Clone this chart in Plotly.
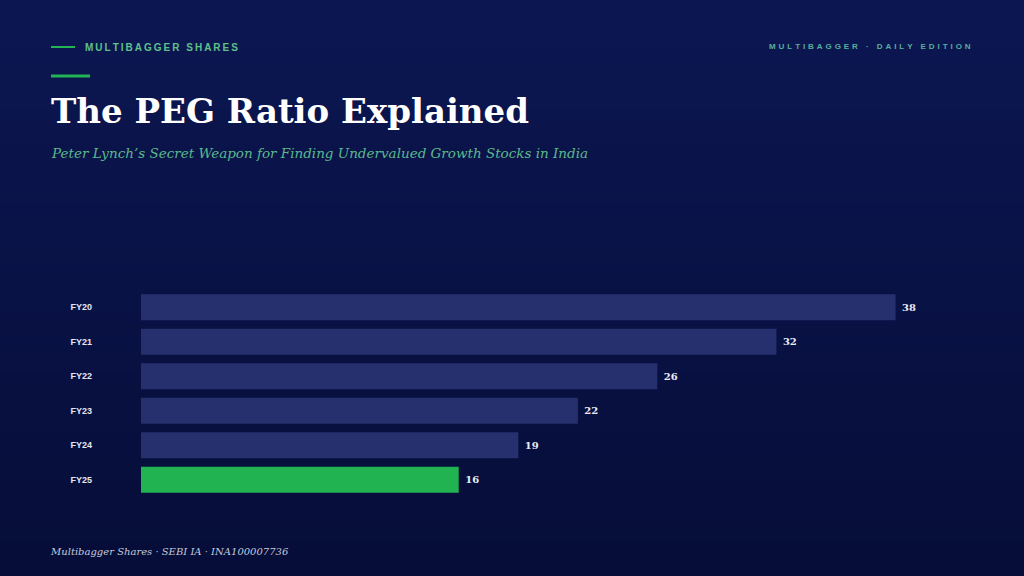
import plotly.graph_objects as go

categories = ["FY20", "FY21", "FY22", "FY23", "FY24", "FY25"]
values = [38, 32, 26, 22, 19, 16]
bar_colors = ["#27306e", "#27306e", "#27306e", "#27306e", "#27306e", "#21b352"]

W, H = 1024, 576

def spaced(s, sep="\u2009"):
    return sep.join(list(s))

fig = go.Figure()
fig.add_trace(go.Bar(
    y=categories, x=values, orientation="h",
    marker=dict(color=bar_colors, line=dict(width=0)),
    width=0.75,
    text=[f" {v}" for v in values], textposition="outside",
    textfont=dict(family="DejaVu Serif", size=10, color="#e8ebf5", weight="bold"),
    cliponaxis=False, hoverinfo="skip",
))

L, R, T, B = 141, 49, 290, 79
pw, ph = W - L - R, H - T - B
def px(x):
    return (x - L) / pw
def py(y):
    return (H - B - y) / ph

# background gradient bands
top = (12, 23, 82)
bot = (6, 13, 56)
n = 48
shapes = []
for i in range(n):
    t = i / (n - 1)
    c = tuple(round(top[k] + (bot[k] - top[k]) * t) for k in range(3))
    y_top = i * H / n
    y_bot = (i + 1) * H / n + 1
    shapes.append(dict(type="rect", xref="paper", yref="paper",
                       x0=px(-5), x1=px(W + 5), y0=py(y_bot), y1=py(y_top),
                       fillcolor=f"rgb{c}", line=dict(width=0), layer="below"))

shapes.append(dict(type="line", xref="paper", yref="paper", x0=px(51), x1=px(75), y0=py(47), y1=py(47),
                   line=dict(color="#22b455", width=2)))
shapes.append(dict(type="line", xref="paper", yref="paper", x0=px(51), x1=px(90), y0=py(76), y1=py(76),
                   line=dict(color="#22b455", width=3)))

annotations = [
    dict(text=spaced("MULTIBAGGER SHARES"), x=px(83), y=py(47), xanchor="left", yanchor="middle",
         font=dict(family="Liberation Sans", size=10, color="#5fc08a", weight="bold")),
    dict(text=spaced("MULTIBAGGER · DAILY EDITION", "\u2009\u2006"), x=px(973), y=py(46), xanchor="right", yanchor="middle",
         font=dict(family="Liberation Sans", size=8, color="#5aae9c", weight="bold")),
    dict(text="<b>The PEG Ratio Explained</b>", x=px(49), y=py(111), xanchor="left", yanchor="middle",
         font=dict(family="DejaVu Serif", size=34, color="#ffffff")),
    dict(text="<i>Peter Lynch’s Secret Weapon for Finding Undervalued Growth Stocks in India</i>",
         x=px(49), y=py(153), xanchor="left", yanchor="middle",
         font=dict(family="DejaVu Serif", size=13.5, color="#5cb98a")),
    dict(text="<i>Multibagger Shares · SEBI IA · INA100007736</i>", x=px(48), y=py(551), xanchor="left", yanchor="middle",
         font=dict(family="DejaVu Serif", size=10, color="#c3cadc")),
]
for a in annotations:
    a.update(xref="paper", yref="paper", showarrow=False)

fig.update_layout(
    width=W, height=H,
    margin=dict(l=L, r=R, t=T, b=B, pad=0),
    paper_bgcolor="#09113f", plot_bgcolor="rgba(0,0,0,0)",
    shapes=shapes, annotations=annotations,
    showlegend=False, bargap=0.25,
    xaxis=dict(range=[0, 42], visible=False, fixedrange=True),
    yaxis=dict(categoryorder="array", categoryarray=categories, range=[5.5, -0.5],
               showgrid=False, zeroline=False, showline=False, ticks="",
               ticklabelstandoff=48, fixedrange=True,
               tickfont=dict(family="Liberation Sans", size=9, color="#e3e7f2", weight="bold")),
)

fig.write_html("out.html", config={"displayModeBar": False},
               post_script="document.body.style.margin='0';document.body.style.overflow='hidden';")
